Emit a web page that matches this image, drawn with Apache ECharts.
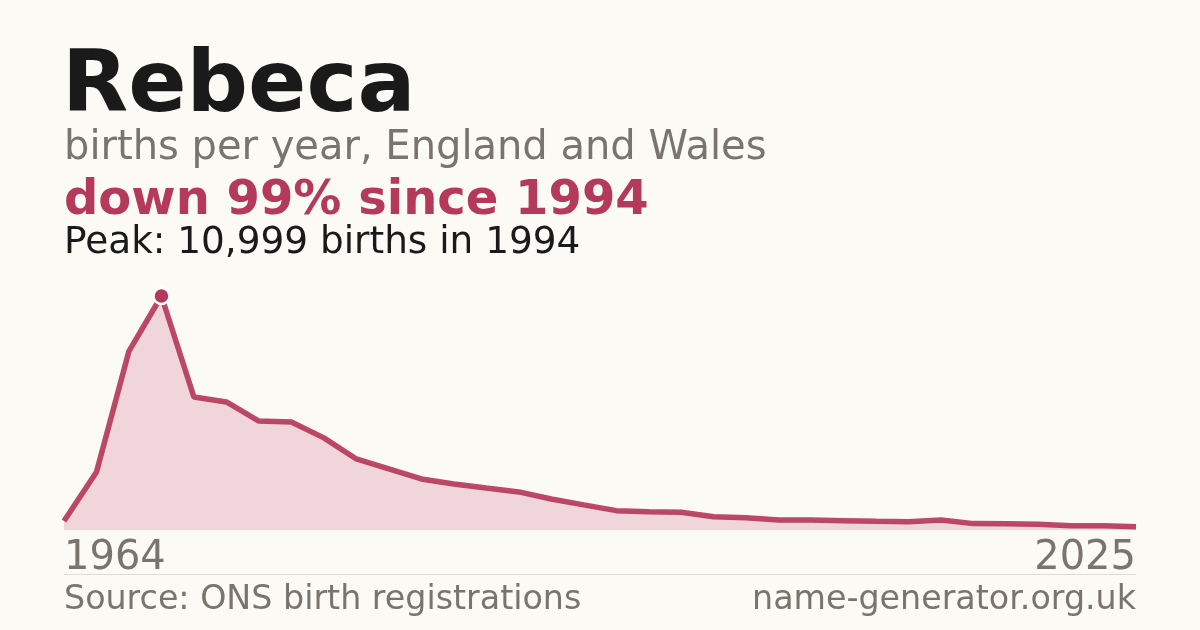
<!DOCTYPE html>
<html>
<head>
<meta charset="utf-8">
<script src="https://cdn.jsdelivr.net/npm/echarts@6/dist/echarts.min.js"></script>
<style>
html,body{margin:0;padding:0;background:#fbfaf5;}
#c{width:1200px;height:630px;}
</style>
</head>
<body>
<div id="c"></div>
<script>
const years = ['1964','1974','1984','1994','1996','1997','1998','1999','2000','2001','2002','2003','2004','2005','2006','2007','2008','2009','2010','2011','2012','2013','2014','2015','2016','2017','2018','2019','2020','2021','2022','2023','2024','2025'];
const births = [420,2730,8410,10999,6250,6020,5120,5080,4330,3340,2870,2400,2160,1970,1790,1460,1180,910,860,830,625,580,470,470,440,410,390,470,300,295,270,205,200,150];
const titleText = 'Rebeca';
const subtitleText = 'births per year, England and Wales';
const changeText = 'down 99% since 1994';
const peakText = 'Peak: 10,999 births in 1994';
const sourceText = 'Source: ONS birth registrations';
const siteText = 'name-generator.org.uk';

const chart = echarts.init(document.getElementById('c'));
const F = 'DejaVu Sans';
const peakIdx = births.indexOf(Math.max(...births));
chart.setOption({
  backgroundColor: '#fbfaf5',
  animation: false,
  grid: {left: 64, right: 64, top: 296, bottom: 100},
  xAxis: {
    type: 'category', data: years, boundaryGap: false,
    axisLine: {show: false}, axisTick: {show: false}, splitLine: {show: false},
    axisLabel: {
      interval: 0, margin: 9,
      formatter: (v, i) => (i === 0 || i === years.length - 1) ? v : '',
      color: '#7a756c', fontFamily: F, fontSize: 40,
      alignMinLabel: 'left', alignMaxLabel: 'right', verticalAlign: 'top'
    }
  },
  yAxis: {type: 'value', min: 0, max: 'dataMax', show: false},
  series: [{
    type: 'line', data: births,
    lineStyle: {color: '#b5395a', width: 5.5, opacity: 0.92},
    areaStyle: {color: '#f0d5da', opacity: 1},
    symbol: 'none',
    markPoint: {
      symbol: 'circle', symbolSize: 16,
      itemStyle: {color: '#b5395a', borderColor: '#ffffff', borderWidth: 2.5},
      label: {show: false},
      data: [{coord: [peakIdx, births[peakIdx]]}]
    }
  }],
  graphic: [
    {type: 'text', left: 62, top: 46, style: {text: titleText, font: 'bold 86px "DejaVu Sans"', fill: '#1a1a1a'}},
    {type: 'text', left: 64, top: 129, style: {text: subtitleText, font: '40px "DejaVu Sans"', fill: '#7a756c'}},
    {type: 'text', left: 64, top: 178, style: {text: changeText, font: 'bold 48px "DejaVu Sans"', fill: '#b5395a'}},
    {type: 'text', left: 64, top: 225, style: {text: peakText, font: '37.4px "DejaVu Sans"', fill: '#1a1a1a'}},
    {type: 'rect', shape: {x: 64, y: 574, width: 1072, height: 1}, style: {fill: '#dedbd4'}},
    {type: 'text', left: 64, top: 584, style: {text: sourceText, font: '33.3px "DejaVu Sans"', fill: '#7a756c'}},
    {type: 'text', right: 64, top: 584, style: {text: siteText, font: '33.3px "DejaVu Sans"', fill: '#7a756c'}}
  ]
});
</script>
</body>
</html>
